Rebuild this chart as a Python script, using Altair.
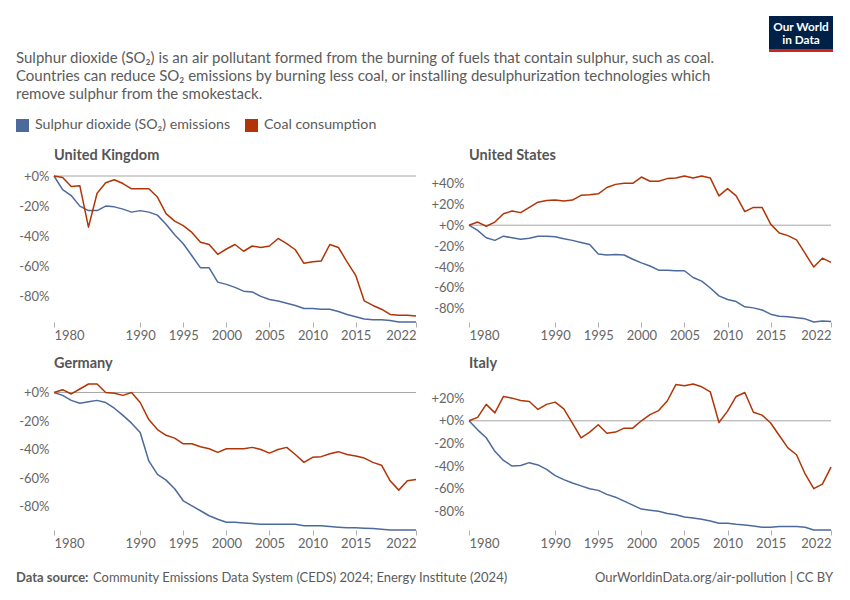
import altair as alt
import pandas as pd

# ---------------- data ----------------
years = list(range(1980, 2023))

uk_so2 = [0, -9, -13, -20, -23, -23, -20, -20.5, -22, -24, -23, -24, -26, -32, -39, -45, -53, -61, -61, -70.5,
          -72, -74, -76.5, -77, -80, -82, -83, -84.5, -86, -88, -88, -88.5, -88.5, -90, -92, -93.5, -95, -95.5,
          -95.5, -96, -97, -97, -97]
uk_coal = [0, -1, -7, -6.5, -34, -11.5, -4.5, -2.5, -5, -8.5, -8.5, -8.5, -14, -25, -30, -33, -37.5, -44, -45.5,
           -52, -48.5, -45.5, -50, -46.5, -47.5, -46.5, -41.5, -45, -49, -58, -57, -56.5, -45.5, -47.5, -57, -66,
           -83, -86, -88.5, -92, -92.5, -92.5, -93]

us_so2 = [0, -5, -12, -14.5, -10.5, -12, -13.5, -12.5, -10.5, -10.5, -11, -13, -14.5, -16.5, -18.5, -27.5, -28.5,
          -28, -28.5, -32.5, -36, -39, -43, -43, -43.5, -43.5, -50, -53.5, -60, -67.5, -71, -73, -78, -79, -81,
          -85, -87, -87.5, -88.5, -89.5, -92.5, -91.5, -92]
us_coal = [0, 3, -1, 3, 11, 13.5, 12, 17, 22, 23.5, 24, 23, 24, 28.5, 29, 30, 36, 39, 40, 40, 46, 42, 42, 44.5,
           45, 47, 45, 47, 45, 28, 35, 28, 13, 17, 17, 1, -7.5, -10, -14, -27, -40, -31.5, -35.5]

de_so2 = [0, -2, -5.5, -7.5, -6.5, -5.5, -7, -11, -16, -21.5, -28, -48, -57.5, -61.5, -67.5, -76, -79.5, -83,
          -86.5, -89, -91, -91, -91.5, -92, -92.5, -92.5, -92.5, -92.5, -92.5, -93.5, -93.5, -93.5, -94, -94.5,
          -95, -95, -95.2, -95.5, -96, -96.5, -96.5, -96.5, -96.5]
de_coal = [0, 2, -1, 2.5, 6, 6, 0, -0.5, -2, 0, -7, -19, -26, -30, -32, -36, -36, -38, -39.5, -42, -39.5, -39.5,
           -39.5, -38.5, -40, -42.5, -40, -38.5, -43.5, -49, -45.5, -45, -43, -41.5, -43.5, -44.5, -46, -49, -51,
           -62, -68.5, -62, -61]

it_so2 = [0, -8, -15, -27, -35, -40, -39.5, -37, -39, -43, -48.5, -52, -55, -57.5, -60, -61.5, -65, -67.5, -71,
          -74.5, -78, -79, -80, -82, -83, -85, -86, -87, -88.5, -90.5, -90.5, -91.5, -92, -93, -94, -94, -93.5,
          -93.5, -93.5, -94, -96.5, -96.5, -96.5]
it_coal = [0, 3, 14.5, 7, 21.5, 20, 18, 17, 10, 14.5, 16.5, 10.5, -2, -15, -10, -3.5, -11, -10, -6.5, -6.5, 0,
           5.5, 9, 17.5, 32, 31, 32.5, 30, 25.5, -1.5, 8.5, 21.5, 25, 7.5, 5, -2, -13, -24, -30, -47, -60, -56, -41]

countries = ["United Kingdom", "United States", "Germany", "Italy"]
series_names = ["Sulphur dioxide (SO₂) emissions", "Coal consumption"]
series_colors = ["#4c6a9c", "#b13507"]

y_ticks = {
    "United Kingdom": [-80, -60, -40, -20, 0],
    "United States": [-80, -60, -40, -20, 0, 20, 40],
    "Germany": [-80, -60, -40, -20, 0],
    "Italy": [-80, -60, -40, -20, 0, 20],
}
x_ticks = [1980, 1990, 1995, 2000, 2005, 2010, 2015, 2022]

subtitle_lines = [
    "Sulphur dioxide (SO₂) is an air pollutant formed from the burning of fuels that contain sulphur, such as coal.",
    "Countries can reduce SO₂ emissions by burning less coal, or installing desulphurization technologies which",
    "remove sulphur from the smokestack.",
]
source_label = "Data source:"
source_text = "Community Emissions Data System (CEDS) 2024; Energy Institute (2024)"
url_text = "OurWorldinData.org/air-pollution | CC BY"
logo_lines = ["Our World", "in Data"]

series_data = {
    "United Kingdom": (uk_so2, uk_coal),
    "United States": (us_so2, us_coal),
    "Germany": (de_so2, de_coal),
    "Italy": (it_so2, it_coal),
}

rows = []
for c in countries:
    so2, coal = series_data[c]
    for y, v in zip(years, so2):
        rows.append({"country": c, "year": y, "series": series_names[0], "value": v})
    for y, v in zip(years, coal):
        rows.append({"country": c, "year": y, "series": series_names[1], "value": v})
df = pd.DataFrame(rows)

FONT = "Lato"
TEXT_COLOR = "#5b5b5b"
W, H = 362, 146

one = alt.Data(values=[{}])


def txt(text, x, y, size=13, weight="normal", color=TEXT_COLOR, align="left", baseline="alphabetic", lh=None):
    kw = dict(text=text, font=FONT, fontSize=size, fontWeight=weight, color=color, align=align,
              baseline=baseline)
    if lh is not None:
        kw["lineHeight"] = lh
    return alt.Chart(one).mark_text(**kw).encode(x=alt.value(x), y=alt.value(y))


def rect(x, x2, y, y2, color):
    return alt.Chart(one).mark_rect(color=color).encode(
        x=alt.value(x), x2=alt.value(x2), y=alt.value(y), y2=alt.value(y2))


def panel(country, extras=None):
    d = df[df.country == country]
    base = alt.Chart(d)
    yscale = alt.Scale(nice=False, zero=False)
    yaxis = alt.Axis(values=y_ticks[country], title=None, domain=False, ticks=False,
                     labelOverlap=False, labelFlush=False, labelBound=False,
                     labelPadding=5, labelFontSize=13, labelColor="#666666", labelFont=FONT,
                     gridColor="#dddddd", gridDash=[4, 3],
                     labelExpr="(datum.value >= 0 ? '+' : '-') + abs(datum.value) + '%'")
    lines = base.mark_line(strokeWidth=1.5, strokeJoin="round").encode(
        x=alt.X("year:Q", scale=alt.Scale(domain=[years[0], years[-1]], nice=False, zero=False),
                axis=alt.Axis(values=x_ticks, format="d", title=None, grid=False, domain=False,
                              ticks=True, tickSize=5, tickColor="#b0b0b0", labelFlush=True,
                              labelOverlap=False,
                              labelPadding=2, labelFontSize=13, labelColor="#666666", labelFont=FONT)),
        y=alt.Y("value:Q", scale=yscale, axis=yaxis),
        color=alt.Color("series:N", scale=alt.Scale(domain=series_names, range=series_colors), legend=None),
        detail="series:N",
    )
    zero = alt.Chart(one).mark_rule(color="#a6a6a6", strokeWidth=1).encode(
        y=alt.YDatum(0, axis=yaxis))
    title = txt(country, 0, -16, size=14.5, weight="bold", color="#555555")
    layers = [zero, lines, title]
    if extras:
        layers += extras
    return alt.layer(*layers).properties(width=W, height=H)


# overlay elements (positions relative to the UK plot origin)
overlay = [
    txt(subtitle_lines, -38, -112.6, size=15, lh=17.6),
    rect(-38, -25, -57, -44, series_colors[0]),
    txt(series_names[0], -19, -51, size=14.2, baseline="middle"),
    rect(191, 204, -57, -44, series_colors[1]),
    txt(series_names[1], 210, -51, size=14.2, baseline="middle"),
    rect(715, 779, -160, -124, "#002147"),
    rect(715, 779, -127, -124, "#ce261e"),
    txt(logo_lines[0], 747, -145.5, size=11.8, weight="bold", color="#ffffff", align="center"),
    txt(logo_lines[1], 747, -132.5, size=11.8, weight="bold", color="#ffffff", align="center"),
    txt(source_label, -38, 405.5, size=13, weight="bold"),
    txt(source_text, 39, 405.5, size=13),
    txt(url_text, 779, 405.5, size=13, align="right"),
]

charts = [
    panel("United Kingdom", overlay),
    panel("United States"),
    panel("Germany"),
    panel("Italy"),
]

chart = alt.ConcatChart(
    concat=charts, columns=2, spacing={"row": 62, "column": 53}, bounds="flush", padding=8
).resolve_scale(x="independent", y="independent", color="shared").configure_view(
    stroke=None).configure_axis(labelOverlap=False)

chart.save("out.html", embed_options={"renderer": "svg", "actions": False})
